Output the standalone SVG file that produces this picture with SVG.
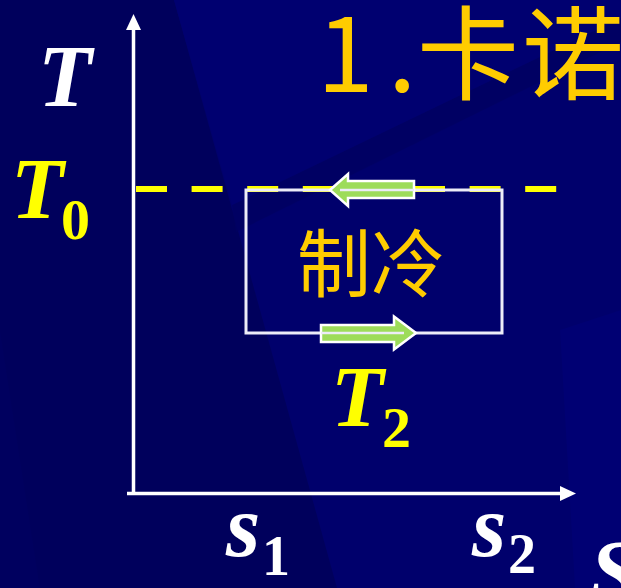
<svg xmlns="http://www.w3.org/2000/svg" width="621" height="588" viewBox="0 0 621 588">
  <defs>
    <style>
      .ital { font-family: "Liberation Serif", "Times New Roman", serif; font-style: italic; font-weight: bold; }
      .sub { font-family: "Liberation Serif", "Times New Roman", serif; font-weight: bold; }
      .cjk { font-family: "Noto Sans CJK SC", "Noto Sans", sans-serif; fill: #ffcc00; }
      .axis { stroke: #ffffff; stroke-width: 3.5; fill: none; }
      .cycle { stroke: #ececf8; stroke-width: 3; fill: none; }
      .flow { fill: #9ddc5a; stroke: #ffffff; stroke-width: 2.5; stroke-linejoin: miter; }
    </style>
  </defs>

  <!-- background -->
  <g id="background">
    <rect x="0" y="0" width="621" height="588" fill="#00006c"/>
    <polygon points="0,0 174,0 337,588 0,588" fill="#00005c"/>
    <polygon points="0,588 0,330 40,588" fill="#00005f"/>
    <polygon points="621,18 621,42 236,232 232,205" fill="#000062" opacity="0.8"/>
    <polygon points="174,0 621,0 621,18 232,205" fill="#000070"/>
    <polygon points="560,330 621,310 621,588 575,588" fill="#000073"/>
  </g>

  <!-- title -->
  <g id="title">
    <text class="cjk" y="92" font-size="102"><tspan x="317">1</tspan><tspan x="388">.</tspan><tspan x="417">卡</tspan><tspan x="522">诺</tspan></text>
  </g>

  <!-- axes -->
  <g id="axes">
    <line class="axis" x1="133.5" y1="28" x2="133.5" y2="494"/>
    <polygon points="133.5,14 126,30 141,30" fill="#ffffff"/>
    <line class="axis" x1="127" y1="493.5" x2="562" y2="493.5"/>
    <polygon points="576,493.5 560,486 560,501" fill="#ffffff"/>
  </g>

  <!-- T0 isotherm dashed and cycle -->
  <g id="connectors">
    <line x1="136" y1="189" x2="560" y2="189" stroke="#ffff00" stroke-width="6" stroke-dasharray="31 24.6"/>
    <rect class="cycle" x="246" y="190" width="256" height="143"/>
    <polygon class="flow" points="330,190 348,174 348,181 414,181 414,198 348,198 348,206"/>
    <line x1="340" y1="190" x2="414" y2="190" stroke="#ececf8" stroke-width="2.5"/>
    <polygon class="flow" points="416,333 394,316.5 394,325 321,325 321,342 394,342 394,349.5"/>
    <line x1="321" y1="333" x2="404" y2="333" stroke="#ececf8" stroke-width="2.5"/>
  </g>

  <!-- labels -->
  <g id="label-T">
    <text class="ital" x="38" y="106" font-size="88" fill="#ffffff">T</text>
  </g>
  <g id="label-T0">
    <text class="ital" x="11" y="218" font-size="86" fill="#ffff00">T</text>
    <text class="sub" x="61" y="239" font-size="58" fill="#ffff00">0</text>
  </g>
  <g id="label-refrigeration">
    <text class="cjk" x="371" y="291" font-size="74" text-anchor="middle">制冷</text>
  </g>
  <g id="label-T2">
    <text class="ital" x="331" y="426" font-size="86" fill="#ffff00">T</text>
    <text class="sub" x="382" y="447" font-size="58" fill="#ffff00">2</text>
  </g>
  <g id="label-s1">
    <text class="ital" x="226" y="556" font-size="88" fill="#ffffff">s</text>
    <text class="sub" x="262" y="575" font-size="56" fill="#ffffff">1</text>
  </g>
  <g id="label-s2">
    <text class="ital" x="472" y="556" font-size="88" fill="#ffffff">s</text>
    <text class="sub" x="508" y="573" font-size="56" fill="#ffffff">2</text>
  </g>
  <g id="label-S">
    <text class="ital" x="590" y="601" font-size="88" fill="#ffffff">S</text>
  </g>
</svg>
